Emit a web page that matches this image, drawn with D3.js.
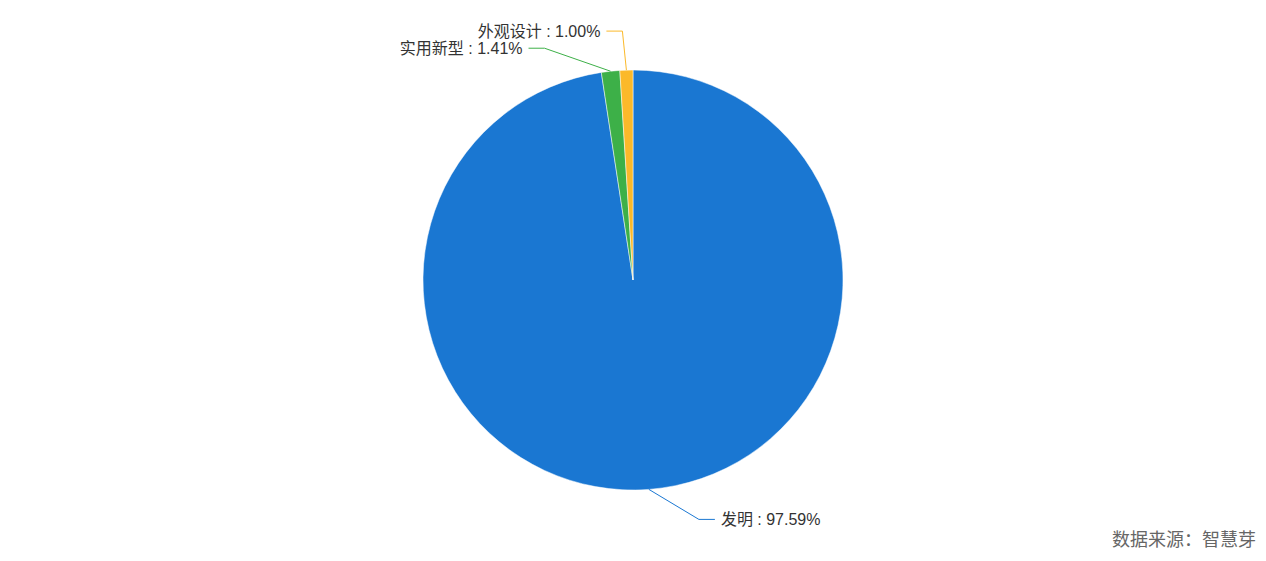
<!DOCTYPE html>
<html>
<head>
<meta charset="utf-8">
<script src="https://cdn.jsdelivr.net/npm/d3@7/dist/d3.min.js"></script>
<style>
  body { margin: 0; background: #fff; }
  svg { display: block; font-family: "Liberation Sans", "Noto Sans CJK SC", sans-serif; }
</style>
</head>
<body>
<div id="chart"></div>
<script>
// data
var categories = ["发明", "实用新型", "外观设计"];
var shares = [97.59, 1.41, 1.00];
var colors = ["#1a77d2", "#3db048", "#fbb92a"];
var sourceText = "数据来源：智慧芽";

var svgWidth = 1266;
var svgHeight = 561;
var cx = 633, cy = 280, radius = 210;

var svg = d3.select("#chart")
  .append("svg")
  .attr("width", svgWidth)
  .attr("height", svgHeight);

var chart = svg.append("g")
  .attr("transform", `translate(${cx}, ${cy})`);

var pieData = d3.pie().sort(null).value(d => d)(shares);
var arc = d3.arc().innerRadius(0).outerRadius(radius);

chart.selectAll("path.slice")
  .data(pieData)
  .enter()
  .append("path")
  .attr("class", "slice")
  .attr("d", arc)
  .attr("fill", (d, i) => colors[i])
  .attr("stroke", "#fff")
  .attr("stroke-width", 0.5);

// label lines: start on the rim, elbow, then short horizontal run
// elbow offsets (layout only) to mimic the spread-out labels
var elbowOffset = [[50, 30], [-66, -23], [-4, -39]];
var run = 16;

pieData.forEach((d, i) => {
  var a = (d.startAngle + d.endAngle) / 2;
  var sx = Math.sin(a) * radius;
  var sy = -Math.cos(a) * radius;
  var ex = sx + elbowOffset[i][0];
  var ey = sy + elbowOffset[i][1];
  var side = ex >= 0 ? 1 : -1;
  var hx = ex + side * run;

  chart.append("polyline")
    .attr("points", `${sx},${sy} ${ex},${ey} ${hx},${ey}`)
    .attr("fill", "none")
    .attr("stroke", colors[i])
    .attr("stroke-width", 1);

  chart.append("text")
    .attr("x", hx + side * 6)
    .attr("y", ey)
    .attr("dy", "0.35em")
    .attr("text-anchor", side > 0 ? "start" : "end")
    .attr("font-size", "16px")
    .attr("fill", "#333")
    .text(`${categories[i]} : ${shares[i].toFixed(2)}%`);
});

svg.append("text")
  .attr("x", 1256)
  .attr("y", 546)
  .attr("text-anchor", "end")
  .attr("font-family", "Noto Sans CJK SC, sans-serif")
  .attr("font-size", "18px")
  .attr("fill", "#666")
  .text(sourceText);
</script>
</body>
</html>
